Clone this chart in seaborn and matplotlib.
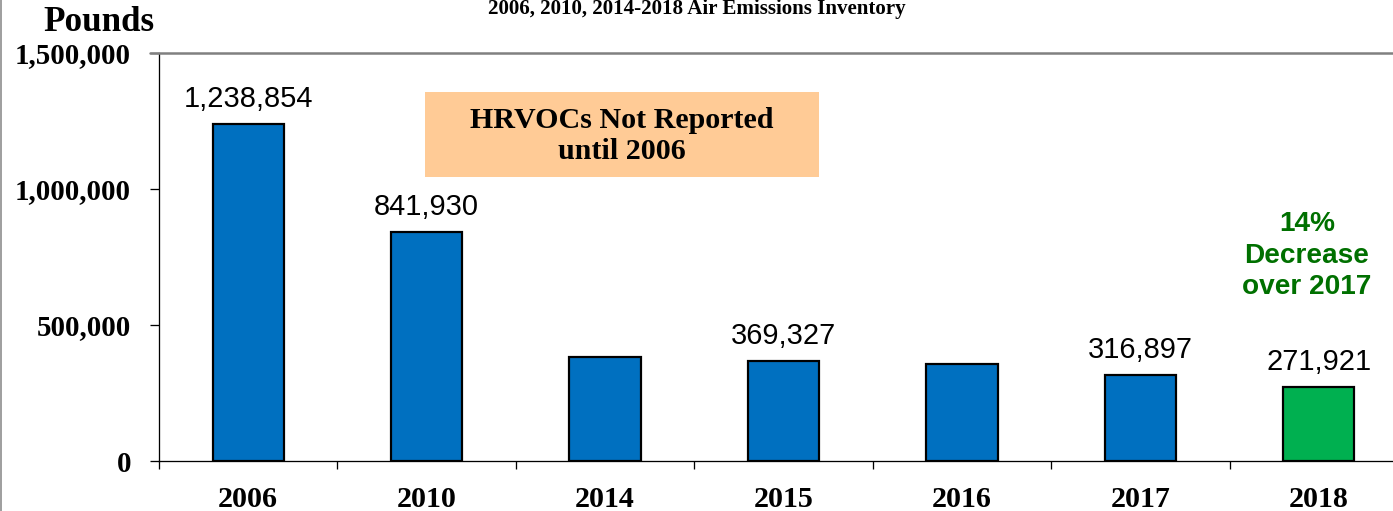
import seaborn as sns
import pandas as pd
import matplotlib.pyplot as plt
from matplotlib.patches import Rectangle
from matplotlib.lines import Line2D

# data
years = ['2006', '2010', '2014', '2015', '2016', '2017', '2018']
pounds = [1238854, 841930, 381000, 369327, 358000, 316897, 271921]
value_labels = ['1,238,854', '841,930', '', '369,327', '', '316,897', '271,921']
bar_colors = ['#0070C0', '#0070C0', '#0070C0', '#0070C0', '#0070C0', '#0070C0', '#00B050']
y_ticks = [0, 500000, 1000000, 1500000]
y_tick_labels = ['0', '500,000', '1,000,000', '1,500,000']

title = '2006, 2010, 2014-2018 Air Emissions Inventory'
box_lines = ['HRVOCs Not Reported', 'until 2006']
note_lines = ['14%', 'Decrease', 'over 2017']

W, H = 1393, 511
DPI = 100

sns.set_style('white')
serif = ['Liberation Serif', 'DejaVu Serif']
sans = ['Liberation Sans', 'DejaVu Sans']
plt.rcParams['font.family'] = serif
plt.rcParams['text.color'] = 'black'
plt.rcParams['xtick.color'] = 'black'
plt.rcParams['ytick.color'] = 'black'


def px(v):
    # pixels -> points
    return v * 72 / DPI


def fx(x):
    return x / W


def fy(y):
    # y measured from the top of the image
    return (H - y) / H


df = pd.DataFrame({'year': years, 'pounds': pounds})

fig = plt.figure(figsize=(W / DPI, H / DPI), dpi=DPI)
ax = fig.add_axes([fx(159), fy(461), 1249 / W, 408 / H])

sns.barplot(data=df, x='year', y='pounds', hue='year', palette=bar_colors,
            legend=False, width=0.4, edgecolor='black', linewidth=px(2.2),
            saturation=1, ax=ax)

ax.set_xlim(-0.5, 6.5)
ax.set_ylim(0, 1500000)
ax.set_xlabel('')
ax.set_ylabel('')

for s in ['top', 'right']:
    ax.spines[s].set_visible(False)
for s in ['left', 'bottom']:
    ax.spines[s].set_color('black')
    ax.spines[s].set_linewidth(px(1.3))

# y ticks
ax.set_yticks(y_ticks)
ax.set_yticklabels(y_tick_labels, fontsize=px(29), fontweight='bold')
ax.tick_params(axis='y', direction='out', length=px(9), width=px(1.3),
               pad=px(19), left=True)

# x ticks: labels at categories, marks at boundaries
ax.set_xticks(range(len(years)))
ax.set_xticklabels(years, fontsize=px(30), fontweight='bold')
ax.set_xticks([i - 0.5 for i in range(len(years) + 1)], minor=True)
ax.tick_params(axis='x', which='major', length=0, pad=px(25))
ax.tick_params(axis='x', which='minor', direction='out', length=px(8),
               width=px(1.3), bottom=True)

# gray line at the top of the scale
ax.axhline(1500000, xmin=-9 / 1249, xmax=1, color='#808080', lw=px(2.5),
           clip_on=False, zorder=5)

# value labels over the bars
for i, (v, lab) in enumerate(zip(pounds, value_labels)):
    if lab:
        ax.annotate(lab, (i, v), xytext=(0, px(17)), textcoords='offset points',
                    ha='center', va='baseline', fontsize=px(29), family=sans)

# title (cut off at the top in the original)
fig.text(fx(697), fy(14), title, ha='center', va='baseline',
         fontsize=px(21), fontweight='bold')
fig.text(fx(43), fy(31), 'Pounds', ha='left', va='baseline',
         fontsize=px(35), fontweight='bold')

# note box
fig.add_artist(Rectangle((fx(425), fy(177)), fx(819) - fx(425), fy(92) - fy(177),
                         transform=fig.transFigure, facecolor='#FFCB96',
                         edgecolor='none', zorder=3))
for line, base in zip(box_lines, [128, 159]):
    fig.text(fx(622), fy(base), line, ha='center', va='baseline',
             fontsize=px(30), fontweight='bold', zorder=4)

# green note
for line, base in zip(note_lines, [231, 263, 294]):
    fig.text(fx(1307), fy(base), line, ha='center', va='baseline',
             fontsize=px(28), fontweight='bold', color='#007000', family=sans)

# slide border at the left edge
fig.add_artist(Line2D([fx(1), fx(1)], [0, 1], transform=fig.transFigure,
                      color='#A0A0A0', lw=px(2)))

fig.savefig('out.png', dpi=DPI)
